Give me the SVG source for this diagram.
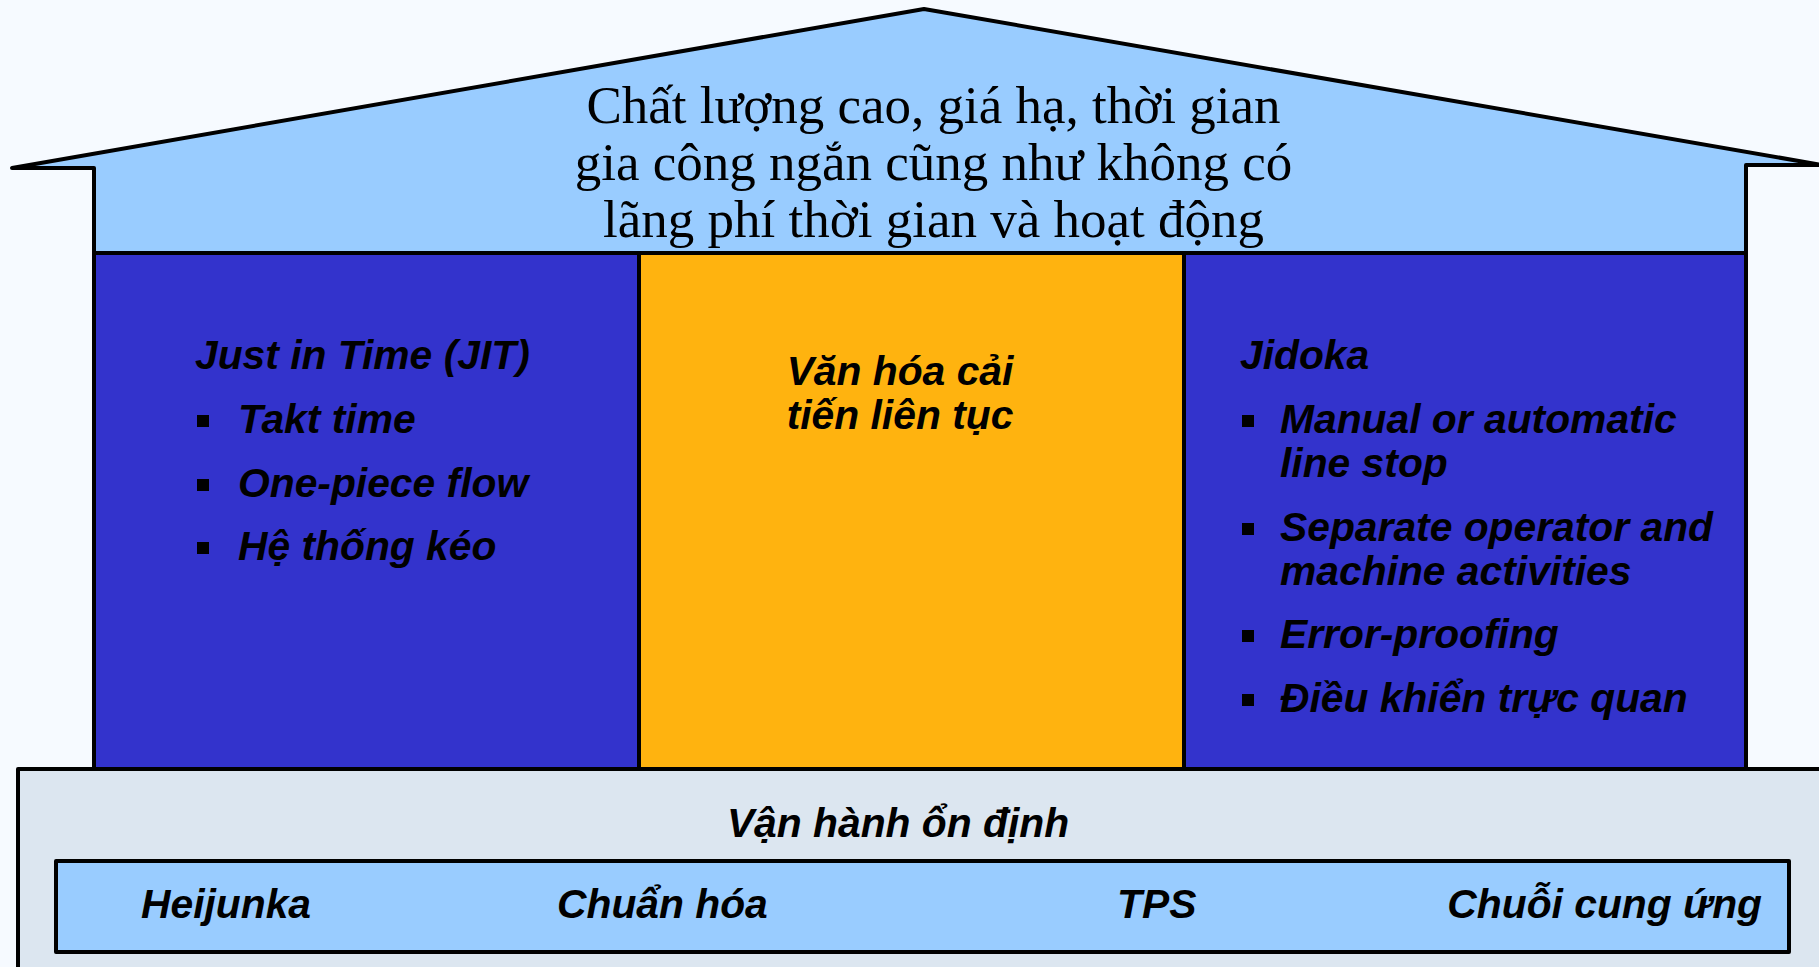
<svg xmlns="http://www.w3.org/2000/svg" width="1819" height="967" viewBox="0 0 1819 967">
  <style>
    .edge { stroke: #000; stroke-width: 4; stroke-linejoin: round; stroke-linecap: round; }
    .roof { fill: #99CCFF; }
    .pillar { fill: #3333CC; }
    .core { fill: #FFB30F; }
    .base { fill: #DCE6F0; }
    .band { fill: #99CCFF; }
    .serif { font-family: "Liberation Serif", "Times New Roman", serif; font-size: 53px; fill: #000; }
    .label { font-family: "Liberation Sans", Arial, sans-serif; font-size: 40.8px; font-weight: bold; font-style: italic; fill: #000; }
    .mid { text-anchor: middle; }
    .dot { fill: #000; }
  </style>

  <rect x="0" y="0" width="1819" height="967" fill="#F6FAFF"/>

  <!-- roof with the goal statement -->
  <g id="roof">
    <polygon class="roof edge" points="12,168 924,9 1822,165 1746,165 1746,253 94,253 94,168"/>
    <text class="serif mid" x="933.5" y="123">Chất lượng cao, giá hạ, thời gian</text>
    <text class="serif mid" x="933.5" y="180">gia công ngắn cũng như không có</text>
    <text class="serif mid" x="933.5" y="237">lãng phí thời gian và hoạt động</text>
  </g>

  <!-- left pillar: Just in Time -->
  <g id="pillar-jit">
    <rect class="pillar edge" x="94" y="253" width="545" height="516"/>
    <text class="label" x="195" y="369">Just in Time (JIT)</text>
    <rect class="dot" x="197" y="415" width="12" height="12"/>
    <text class="label" x="238" y="433">Takt time</text>
    <rect class="dot" x="197" y="479" width="12" height="12"/>
    <text class="label" x="238" y="497">One-piece flow</text>
    <rect class="dot" x="197" y="542" width="12" height="12"/>
    <text class="label" x="238" y="560">Hệ thống kéo</text>
  </g>

  <!-- centre pillar: continuous improvement -->
  <g id="pillar-kaizen">
    <rect class="core edge" x="639" y="253" width="545" height="516"/>
    <text class="label mid" x="900" y="385">Văn hóa cải</text>
    <text class="label mid" x="900" y="429">tiến liên tục</text>
  </g>

  <!-- right pillar: Jidoka -->
  <g id="pillar-jidoka">
    <rect class="pillar edge" x="1184" y="253" width="562" height="516"/>
    <text class="label" x="1240" y="369">Jidoka</text>
    <rect class="dot" x="1242" y="415" width="12" height="12"/>
    <text class="label" x="1280" y="433">Manual or automatic</text>
    <text class="label" x="1280" y="477">line stop</text>
    <rect class="dot" x="1242" y="523" width="12" height="12"/>
    <text class="label" x="1280" y="541">Separate operator and</text>
    <text class="label" x="1280" y="585">machine activities</text>
    <rect class="dot" x="1242" y="630" width="12" height="12"/>
    <text class="label" x="1280" y="648">Error-proofing</text>
    <rect class="dot" x="1242" y="694" width="12" height="12"/>
    <text class="label" x="1280" y="712">Điều khiển trực quan</text>
  </g>

  <!-- foundation -->
  <g id="foundation">
    <rect class="base edge" x="18" y="769" width="1830" height="240"/>
    <text class="label mid" x="898" y="837">Vận hành ổn định</text>
  </g>

  <g id="foundation-band">
    <rect class="band edge" x="56" y="861" width="1733" height="91"/>
    <text class="label" x="141" y="918">Heijunka</text>
    <text class="label" x="557" y="918">Chuẩn hóa</text>
    <text class="label" x="1117" y="918">TPS</text>
    <text class="label" x="1762" y="918" text-anchor="end">Chuỗi cung ứng</text>
  </g>

  <g id="connectors"/>
</svg>
